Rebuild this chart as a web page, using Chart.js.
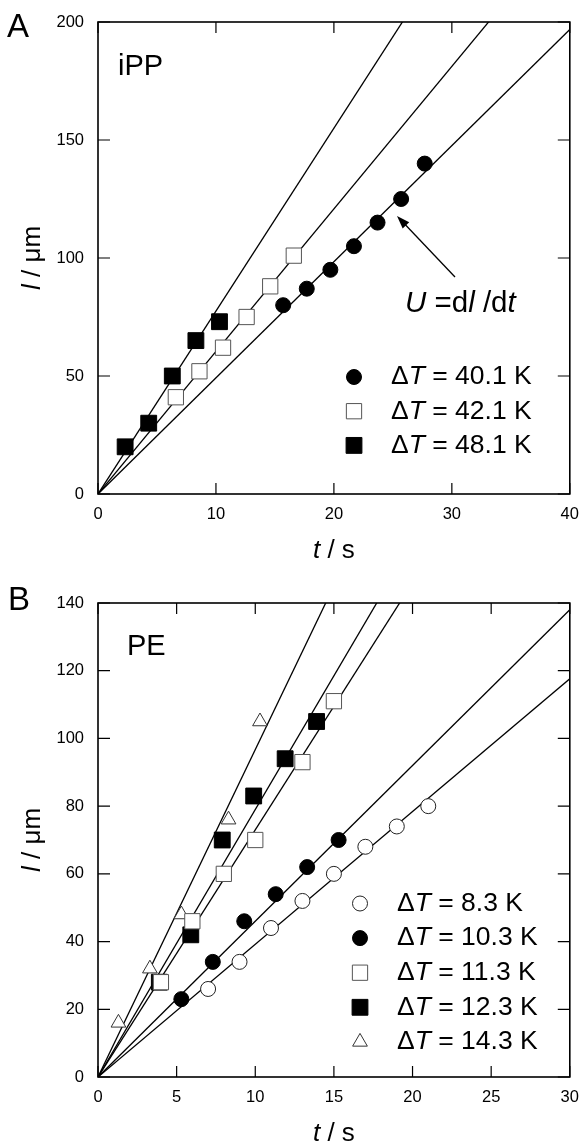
<!DOCTYPE html>
<html>
<head>
<meta charset="utf-8">
<script src="https://cdn.jsdelivr.net/npm/chart.js@4.4.0/dist/chart.umd.min.js"></script>
<style>
  body { margin: 0; background: #fff; width: 582px; height: 1145px; overflow: hidden; position: relative; }
  canvas { position: absolute; left: 0; }
  #chartA { top: 0; }
  #chartB { top: 580px; }
</style>
</head>
<body>
<canvas id="chartA" width="582" height="580"></canvas>
<canvas id="chartB" width="582" height="565"></canvas>
<script>
// ---- Panel A : iPP ----
const tA_401 = [15.7, 17.7, 19.7, 21.7, 23.7, 25.7, 27.7];
const lA_401 = [80, 87, 95, 105, 115, 125, 140];
const tA_421 = [6.6, 8.6, 10.6, 12.6, 14.6, 16.6];
const lA_421 = [41, 52, 62, 75, 88, 101];
const tA_481 = [2.3, 4.3, 6.3, 8.3, 10.3];
const lA_481 = [20, 30, 50, 65, 73];
const slopesA = [4.92, 6.04, 7.75];           // U = dl/dt, µm/s
const labelsA = ["40.1", "42.1", "48.1"];
const xTicksA = [0, 10, 20, 30, 40];
const yTicksA = [0, 50, 100, 150, 200];

// ---- Panel B : PE ----
const tB_83 = [7, 9, 11, 13, 15, 17, 19, 21];
const lB_83 = [26, 34, 44, 52, 60, 68, 74, 80];
const tB_103 = [5.3, 7.3, 9.3, 11.3, 13.3, 15.3];
const lB_103 = [23, 34, 46, 54, 62, 70];
const tB_113 = [4, 6, 8, 10, 13, 15];
const lB_113 = [28, 46, 60, 70, 93, 111];
const tB_123 = [3.9, 5.9, 7.9, 9.9, 11.9, 13.9];
const lB_123 = [28, 42, 70, 83, 94, 105];
const tB_143 = [1.3, 3.3, 5.3, 8.3, 10.3];
const lB_143 = [16, 32, 48, 76, 105];
const slopesB = [3.92, 4.6, 7.3, 7.9, 9.67];
const labelsB = ["8.3", "10.3", "11.3", "12.3", "14.3"];
const xTicksB = [0, 5, 10, 15, 20, 25, 30];
const yTicksB = [0, 20, 40, 60, 80, 100, 120, 140];

const FONT = '"Liberation Sans", Arial, Helvetica, sans-serif';

// marker looks
const filledCircle = { pointStyle: "circle", radius: 7.5, bg: "#000", border: "#000", bw: 1 };
const openCircle   = { pointStyle: "circle", radius: 7.5, bg: "#fff", border: "#222", bw: 1 };
const openSquare   = { pointStyle: "rect", radius: 10.8, bg: "#fff", border: "#555", bw: 1 };
const filledSquare = { pointStyle: "rect", radius: 11.2, bg: "#000", border: "#000", bw: 1 };
const openTriangle = { pointStyle: "triangle", radius: 8.5, bg: "#fff", border: "#333", bw: 1 };

function pts(ts, ls) {
    return ts.map((t, i) => ({ x: t, y: ls[i] }));
}

function scatterSet(ts, ls, m) {
    return {
        data: pts(ts, ls),
        pointStyle: m.pointStyle,
        pointRadius: m.radius,
        pointBackgroundColor: m.bg,
        pointBorderColor: m.border,
        pointBorderWidth: m.bw,
        showLine: false
    };
}

function fitLine(slope, xMax) {
    return {
        data: [{ x: 0, y: 0 }, { x: xMax, y: slope * xMax }],
        showLine: true,
        borderColor: "#000",
        borderWidth: 1.3,
        pointRadius: 0,
        fill: false
    };
}

function richText(ctx, parts, x, y, size, align) {
    let total = 0;
    const widths = parts.map(p => {
        ctx.font = (p[1] ? "italic " : "") + size + "px " + FONT;
        const w = ctx.measureText(p[0]).width;
        total += w;
        return w;
    });
    let cx = align === "center" ? x - total / 2 : x;
    ctx.textAlign = "left";
    parts.forEach((p, i) => {
        ctx.font = (p[1] ? "italic " : "") + size + "px " + FONT;
        ctx.fillText(p[0], cx, y);
        cx += widths[i];
    });
}

function marker(ctx, m, x, y) {
    ctx.save();
    ctx.fillStyle = m.bg;
    ctx.strokeStyle = m.border;
    ctx.lineWidth = m.bw;
    Chart.helpers.drawPoint(ctx, { pointStyle: m.pointStyle, radius: m.radius, rotation: 0, borderWidth: m.bw }, x, y);
    ctx.restore();
}

function panelPlugin(cfg) {
    return {
        id: "panel" + cfg.letter,
        afterDatasetsDraw(chart) {
            const ctx = chart.ctx;
            const a = chart.chartArea;
            const xs = chart.scales.x, ys = chart.scales.y;
            ctx.save();
            ctx.strokeStyle = "#000";
            // inward ticks, all four sides
            ctx.lineWidth = 1.2;
            ctx.beginPath();
            xs.ticks.forEach(t => {
                const px = xs.getPixelForValue(t.value);
                ctx.moveTo(px, a.bottom); ctx.lineTo(px, a.bottom - 11);
                ctx.moveTo(px, a.top); ctx.lineTo(px, a.top + 11);
            });
            ys.ticks.forEach(t => {
                const py = ys.getPixelForValue(t.value);
                ctx.moveTo(a.left, py); ctx.lineTo(a.left + 12, py);
                ctx.moveTo(a.right, py); ctx.lineTo(a.right - 12, py);
            });
            ctx.stroke();
            // frame
            ctx.lineWidth = 1.6;
            ctx.strokeRect(a.left, a.top, a.right - a.left, a.bottom - a.top);

            ctx.fillStyle = "#000";
            ctx.textBaseline = "alphabetic";
            // panel letter and material name
            ctx.font = "33px " + FONT;
            ctx.textAlign = "left";
            ctx.fillText(cfg.letter, cfg.letterPos[0], cfg.letterPos[1]);
            ctx.font = "29px " + FONT;
            ctx.fillText(cfg.name, cfg.namePos[0], cfg.namePos[1]);

            // axis titles
            richText(ctx, [["t", true], [" / s", false]], (a.left + a.right) / 2, cfg.xTitleY, 26, "center");
            ctx.save();
            ctx.translate(cfg.yTitleX, (a.top + a.bottom) / 2);
            ctx.rotate(-Math.PI / 2);
            richText(ctx, [["l", true], [" / \u03bcm", false]], 0, 0, 26, "center");
            ctx.restore();

            // legend
            ctx.textBaseline = "middle";
            cfg.legend.forEach((row, i) => {
                const y = cfg.legendY + i * cfg.legendStep;
                marker(ctx, row.m, cfg.legendX, y);
                ctx.fillStyle = "#000";
                richText(ctx, [["\u0394", false], ["T", true], [" = " + row.label + " K", false]], cfg.legendTextX, y, 26.5, "left");
            });
            ctx.textBaseline = "alphabetic";

            if (cfg.extra) cfg.extra(ctx);
            ctx.restore();
        }
    };
}

function makeChart(id, sets, slopes, xT, yT, pad, xAxisH, cfg) {
    const xMax = xT[xT.length - 1], yMax = yT[yT.length - 1];
    const datasets = sets.concat(slopes.map(s => fitLine(s, xMax)));
    return new Chart(document.getElementById(id), {
        type: "scatter",
        data: { datasets: datasets },
        options: {
            responsive: false,
            animation: false,
            devicePixelRatio: 1,
            layout: { padding: pad },
            plugins: { legend: { display: false }, tooltip: { enabled: false } },
            scales: {
                x: {
                    type: "linear", min: 0, max: xMax,
                    afterBuildTicks: s => { s.ticks = xT.map(v => ({ value: v })); },
                    afterFit: s => { s.height = xAxisH; },
                    grid: { display: false },
                    border: { display: false },
                    ticks: { color: "#000", font: { family: FONT, size: 16.5 }, padding: 3, maxRotation: 0 }
                },
                y: {
                    type: "linear", min: 0, max: yMax,
                    afterBuildTicks: s => { s.ticks = yT.map(v => ({ value: v })); },
                    afterFit: s => { s.width = 98; },
                    grid: { display: false },
                    border: { display: false },
                    ticks: { color: "#000", font: { family: FONT, size: 16.5 }, padding: 6 }
                }
            }
        },
        plugins: [panelPlugin(cfg)]
    });
}

// Panel A
makeChart("chartA",
    [scatterSet(tA_401, lA_401, filledCircle),
     scatterSet(tA_421, lA_421, openSquare),
     scatterSet(tA_481, lA_481, filledSquare)],
    slopesA, xTicksA, yTicksA,
    { left: 0, right: 11, top: 22, bottom: 0 }, 86,
    {
        letter: "A", letterPos: [7, 37], name: "iPP", namePos: [118, 75],
        xTitleY: 558, yTitleX: 40,
        legendX: 354, legendTextX: 391, legendY: 377, legendStep: 34.2,
        legend: [
            { m: filledCircle, label: labelsA[0] },
            { m: openSquare, label: labelsA[1] },
            { m: filledSquare, label: labelsA[2] }
        ],
        extra(ctx) {
            // U = dl/dt with arrow onto the 40.1 K line
            ctx.fillStyle = "#000";
            richText(ctx, [["U", true], [" =d", false], ["l", true], [" /d", false], ["t", true]], 405, 312, 29.5, "left");
            const x0 = 455, y0 = 277, x1 = 397, y1 = 216;
            const ang = Math.atan2(y1 - y0, x1 - x0);
            ctx.strokeStyle = "#000";
            ctx.lineWidth = 1.3;
            ctx.beginPath();
            ctx.moveTo(x0, y0);
            ctx.lineTo(x1 - 8 * Math.cos(ang), y1 - 8 * Math.sin(ang));
            ctx.stroke();
            ctx.beginPath();
            ctx.moveTo(x1, y1);
            ctx.lineTo(x1 - 13 * Math.cos(ang) + 4.5 * Math.sin(ang), y1 - 13 * Math.sin(ang) - 4.5 * Math.cos(ang));
            ctx.lineTo(x1 - 13 * Math.cos(ang) - 4.5 * Math.sin(ang), y1 - 13 * Math.sin(ang) + 4.5 * Math.cos(ang));
            ctx.closePath();
            ctx.fill();
        }
    });

// Panel B
makeChart("chartB",
    [scatterSet(tB_83, lB_83, openCircle),
     scatterSet(tB_103, lB_103, filledCircle),
     scatterSet(tB_113, lB_113, openSquare),
     scatterSet(tB_123, lB_123, filledSquare),
     scatterSet(tB_143, lB_143, openTriangle)],
    slopesB, xTicksB, yTicksB,
    { left: 0, right: 11, top: 23, bottom: 0 }, 68,
    {
        letter: "B", letterPos: [8, 30], name: "PE", namePos: [127, 75],
        xTitleY: 561, yTitleX: 40,
        legendX: 360, legendTextX: 397, legendY: 323.5, legendStep: 34.6,
        legend: [
            { m: openCircle, label: labelsB[0] },
            { m: filledCircle, label: labelsB[1] },
            { m: openSquare, label: labelsB[2] },
            { m: filledSquare, label: labelsB[3] },
            { m: openTriangle, label: labelsB[4] }
        ]
    });
</script>
</body>
</html>
